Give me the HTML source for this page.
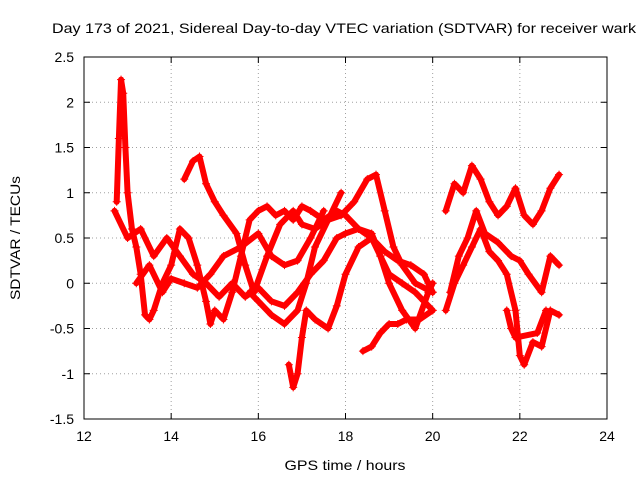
<!DOCTYPE html>
<html><head><meta charset="utf-8"><style>
body{margin:0;background:#fff}
svg{font-family:"Liberation Sans",sans-serif;font-size:14px}
</style></head><body>
<svg id="chart" width="640" height="480">
<rect width="640" height="480" fill="#fff"/>
<text x="344" y="33" text-anchor="middle" textLength="584" lengthAdjust="spacingAndGlyphs">Day 173 of 2021, Sidereal Day-to-day VTEC variation (SDTVAR) for receiver wark</text>
<g id="grid"></g>
<g id="axes"></g>
<g id="marks"></g>
<rect x="84" y="57" width="523" height="362" fill="none" stroke="#000"/>
<text x="345" y="470" text-anchor="middle" textLength="121" lengthAdjust="spacingAndGlyphs">GPS time / hours</text>
<text transform="translate(20,238) rotate(-90)" text-anchor="middle" textLength="124" lengthAdjust="spacingAndGlyphs">SDTVAR / TECUs</text>
</svg>
<script>
const xTicks=[12,14,16,18,20,22,24];
const yTicks=[-1.5,-1,-0.5,0,0.5,1,1.5,2,2.5];
const yTickLabels=["-1.5","-1","-0.5","0","0.5","1","1.5","2","2.5"];
const trace1=[[12.75,0.9],[12.8,1.6],[12.85,2.25],[12.9,2.1],[12.95,1.5],[13.0,1.0],[13.1,0.6],[13.2,0.4],[13.3,0.1],[13.4,-0.35],[13.5,-0.4],[13.6,-0.3],[13.8,0.0],[14.0,0.2],[14.2,0.6],[14.4,0.5],[14.6,0.2],[14.8,-0.2],[14.9,-0.45],[15.0,-0.3],[15.2,-0.4],[15.4,-0.1],[15.6,0.3],[15.8,0.7],[16.0,0.8],[16.2,0.85],[16.4,0.75],[16.6,0.8],[16.8,0.7],[17.0,0.85],[17.2,0.8],[17.5,0.7],[17.8,0.8],[18.0,0.75],[18.3,0.6],[18.6,0.55],[18.8,0.3],[19.0,0.0],[19.3,-0.3],[19.6,-0.5],[19.9,-0.1],[20.0,0.0]];
const trace2=[[12.7,0.8],[13.0,0.5],[13.3,0.6],[13.6,0.3],[13.9,0.5],[14.2,0.3],[14.5,0.1],[14.8,0.0],[15.1,-0.15],[15.4,0.0],[15.7,-0.15],[16.0,-0.05],[16.3,-0.2],[16.6,-0.25],[16.9,-0.1],[17.2,0.1],[17.5,0.25],[17.8,0.5],[18.0,0.55],[18.3,0.6],[18.6,0.5],[18.9,0.35],[19.2,0.25],[19.5,0.2],[19.8,0.1],[20.0,-0.1]];
const trace3=[[14.3,1.15],[14.5,1.35],[14.65,1.4],[14.8,1.1],[15.0,0.9],[15.2,0.75],[15.5,0.55],[15.7,0.2],[15.9,-0.1],[16.2,0.3],[16.5,0.65],[16.8,0.8],[17.0,0.65],[17.3,0.6],[17.6,0.7],[17.9,0.75],[18.2,0.9],[18.5,1.15],[18.7,1.2],[18.9,0.8],[19.1,0.4],[19.3,0.2],[19.6,0.0],[20.0,-0.1]];
const trace4=[[13.2,0.0],[13.5,0.2],[13.8,-0.1],[14.0,0.05],[14.3,0.0],[14.6,-0.05],[14.9,0.1],[15.2,0.3],[15.6,0.4],[16.0,0.55],[16.3,0.3],[16.6,0.2],[16.9,0.25],[17.2,0.5],[17.5,0.8]];
const trace5=[[15.8,-0.1],[16.0,-0.2],[16.3,-0.35],[16.6,-0.45],[16.9,-0.3],[17.1,0.0],[17.3,0.4],[17.6,0.7],[17.9,1.0]];
const trace6=[[16.7,-0.9],[16.8,-1.15],[16.9,-1.0],[17.0,-0.6],[17.1,-0.3],[17.3,-0.4],[17.6,-0.5],[17.8,-0.25],[18.0,0.1],[18.3,0.4],[18.6,0.5],[18.8,0.3],[19.0,0.1],[19.3,0.0],[19.6,-0.1],[19.8,-0.2],[20.0,-0.3]];
const trace7=[[18.4,-0.75],[18.6,-0.7],[18.8,-0.55],[19.0,-0.45],[19.2,-0.45],[19.4,-0.4],[19.7,-0.4],[20.0,-0.3]];
const trace8=[[20.3,0.8],[20.5,1.1],[20.7,1.0],[20.9,1.3],[21.1,1.15],[21.3,0.9],[21.5,0.75],[21.7,0.85],[21.9,1.05],[22.1,0.75],[22.3,0.65],[22.5,0.8],[22.7,1.05],[22.9,1.2]];
const trace9=[[20.3,-0.3],[20.5,0.0],[20.7,0.2],[20.9,0.4],[21.1,0.6],[21.3,0.35],[21.5,0.25],[21.7,0.1],[21.9,-0.3],[22.0,-0.8],[22.1,-0.9],[22.3,-0.65],[22.5,-0.7],[22.7,-0.3],[22.9,-0.35]];
const trace10=[[20.4,-0.1],[20.6,0.3],[20.8,0.5],[21.0,0.8],[21.2,0.55],[21.5,0.45],[21.8,0.3],[22.0,0.25],[22.2,0.1],[22.5,-0.1],[22.7,0.3],[22.9,0.2]];
const trace11=[[21.7,-0.3],[21.8,-0.5],[21.9,-0.6],[22.4,-0.55],[22.6,-0.3]];
const traces=[trace1,trace2,trace3,trace4,trace5,trace6,trace7,trace8,trace9,trace10,trace11];

const X0=84,X1=607,Y0=419,Y1=57;
const xs=v=>X0+(v-12)/(24-12)*(X1-X0);
const ys=v=>Y0-(v+1.5)/(2.5+1.5)*(Y0-Y1);
const NS="http://www.w3.org/2000/svg";
const grid=document.getElementById('grid'),axes=document.getElementById('axes'),marks=document.getElementById('marks');
function mk(t,a,p){const e=document.createElementNS(NS,t);for(const k in a)e.setAttribute(k,a[k]);p.appendChild(e);return e;}
xTicks.forEach(v=>{
  const x=xs(v);
  if(v>12&&v<24){const g=mk('line',{x1:x,x2:x,y1:Y1,y2:Y0,stroke:'#a0a0a0','stroke-dasharray':'1,3'},grid);
  
  }
  mk('line',{x1:x,x2:x,y1:Y0,y2:Y0-6,stroke:'#000'},axes);
  mk('line',{x1:x,x2:x,y1:Y1,y2:Y1+6,stroke:'#000'},axes);
  const t=mk('text',{x:x,y:Y0+22,'text-anchor':'middle'},axes);t.textContent=v;
  
  
});
yTicks.forEach((v,i)=>{
  const y=ys(v);
  if(i>0&&i<yTicks.length-1){const g=mk('line',{x1:X0,x2:X1,y1:y,y2:y,stroke:'#a0a0a0','stroke-dasharray':'1,3'},grid);
  
  }
  mk('line',{x1:X0,x2:X0+6,y1:y,y2:y,stroke:'#000'},axes);
  mk('line',{x1:X1,x2:X1-6,y1:y,y2:y,stroke:'#000'},axes);
  const t=mk('text',{x:X0-10,y:y+5,'text-anchor':'end'},axes);t.textContent=yTickLabels[i];
  
  
});
traces.forEach(tr=>{
  const g=mk('g',{},marks);
  
  
  mk('polyline',{points:tr.map(p=>xs(p[0])+','+ys(p[1])).join(' '),fill:'none',stroke:'#ff0000','stroke-width':6,'stroke-linejoin':'round','stroke-linecap':'round'},g);
  tr.forEach(p=>{
    const x=xs(p[0]),y=ys(p[1]);
    const m=mk('path',{d:`M${x-4},${y}h8M${x},${y-4}v8`,stroke:'#ff0000','stroke-width':1},g);
    
    
  });
});
</script>
</body></html>
